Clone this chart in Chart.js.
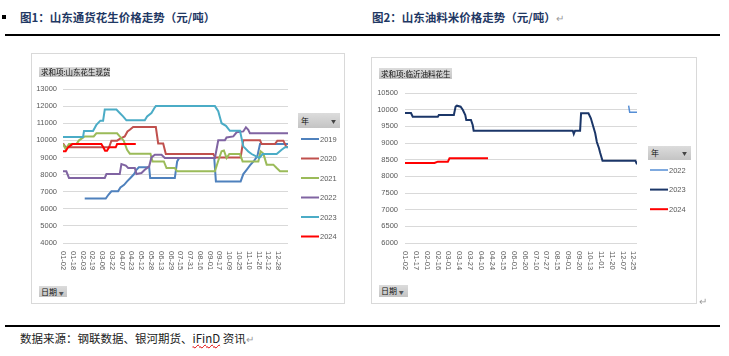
<!DOCTYPE html>
<html><head><meta charset="utf-8">
<script src="https://cdn.jsdelivr.net/npm/chart.js@4.4.1/dist/chart.umd.min.js"></script>
<style>
html,body{margin:0;padding:0;background:#fff;}
body{width:729px;height:356px;position:relative;overflow:hidden;font-family:"Noto Sans CJK SC","Noto Sans",sans-serif;}
.abs{position:absolute;}
.title{font-weight:bold;font-size:11.5px;color:#1F3864;white-space:nowrap;line-height:16px;}
.rule{background:#000;height:1.5px;left:5px;width:715px;}
.box{border:1px solid #D9D9D9;box-sizing:border-box;}
.btn{background:linear-gradient(#dcdcdc,#c4c4c4);font-size:7.5px;color:#111;line-height:10px;white-space:nowrap;padding-left:2px;box-sizing:border-box;}
.ret{color:#9a9a9a;font-weight:normal;font-size:10px;}
canvas{position:absolute;}
</style></head>
<body>
<div class="abs" style="left:2px;top:15px;width:4px;height:4px;background:#000"></div>
<div class="abs title" style="left:20px;top:9px">图1：山东通货花生价格走势（元/吨）</div>
<div class="abs title" style="left:372px;top:9px">图2：山东油料米价格走势（元/吨）<span class="ret">↵</span></div>
<div class="abs rule" style="top:34px"></div>

<div class="abs box" style="left:31px;top:53px;width:314px;height:251px"></div>
<div class="abs box" style="left:371px;top:57px;width:326px;height:247px"></div>
<canvas id="c1" width="314" height="251" style="left:31px;top:53px"></canvas>
<canvas id="c2" width="326" height="247" style="left:371px;top:57px"></canvas>

<div class="abs btn" style="left:39px;top:67px;width:71px;height:10px">求和项:山东花生现货</div>
<div class="abs btn" style="left:39px;top:286px;width:28px;height:11px;line-height:11px;font-size:8px">日期 <span style="font-size:5px;color:#555">▼</span></div>
<div class="abs btn" style="left:298px;top:113px;width:42px;height:15px;line-height:15px;font-size:8px;padding-left:3px">年<span style="position:absolute;right:4px;font-size:5px;color:#444">▼</span></div>

<div class="abs btn" style="left:379px;top:68px;width:73px;height:11px;line-height:11px">求和项:临沂油料花生</div>
<div class="abs btn" style="left:379px;top:285px;width:29px;height:12px;line-height:12px;font-size:8px">日期 <span style="font-size:5px;color:#555">▼</span></div>
<div class="abs btn" style="left:648px;top:146px;width:43px;height:14px;line-height:14px;font-size:8px;padding-left:3px">年<span style="position:absolute;right:4px;font-size:5px;color:#444">▼</span></div>
<div class="abs ret" style="left:699px;top:293px">↵</div>

<div class="abs rule" style="top:325px"></div>
<div class="abs" style="left:20px;top:330px;font-size:11.5px;color:#222;white-space:nowrap;line-height:16px">数据来源：钢联数据、银河期货、<span style="text-decoration:underline wavy #e00000;text-decoration-thickness:1px">iFinD</span> 资讯<span class="ret">↵</span></div>

<script>
// ---------- Chart 1: 山东通货花生 ----------
const TICKS_1 = ['01-02','01-18','02-03','02-19','03-06','03-22','04-07','04-23','05-12','05-28','06-13','06-29','07-15','07-31','08-16','09-01','09-17','10-09','10-25','11-10','11-26','12-12','12-28'];
const YEARS_1 = ['2019','2020','2021','2022','2023','2024'];
// [position in tick units (date index), price]
const P1_2019 = [[2.22,6600],[4.37,6600],[4.64,6820],[4.95,7020],[5.63,7020],[5.87,7250],[6.25,7400],[6.55,7600],[6.89,7800],[7.27,8030],[7.51,8280],[7.75,8420],[8.81,8420],[8.91,7800],[11.43,7800],[11.67,8770],[11.88,8970],[15.46,8970],[15.63,7600],[18.16,7600],[18.43,8030],[18.77,8280],[19.11,8540],[19.52,8800],[19.86,9060],[20.14,9780],[23,9780]];
const P1_2020 = [[0,9820],[0.27,9590],[4.71,9590],[4.95,9980],[5.53,9980],[5.8,10080],[6.31,10230],[6.59,10520],[6.83,10620],[7.17,10780],[9.49,10780],[9.73,9820],[10.24,9820],[10.51,9200],[15.36,9200],[15.56,9000],[18.16,9000],[18.43,10000],[20.14,10000],[20.31,9780],[21.67,9780],[21.91,9980],[22.53,9980],[22.8,9650],[23,9590]];
const P1_2021 = [[0,9780],[0.27,9490],[0.61,9780],[1.37,9780],[1.64,10000],[2.22,10230],[3.14,10230],[3.41,10410],[5.53,10410],[5.8,10230],[6.21,9980],[6.55,9450],[6.83,9220],[8.94,9220],[9.15,8770],[10.31,8770],[10.58,8380],[11.43,8380],[11.67,8190],[15.53,8190],[15.87,8810],[16.21,9360],[16.45,9410],[16.72,8970],[17,9200],[18.09,9200],[18.36,8770],[19.97,8770],[20.2,9360],[20.48,9220],[20.82,8580],[21.5,8580],[21.84,8380],[22.18,8190],[23,8190]];
const P1_2022 = [[0,8190],[0.34,8190],[0.61,7800],[4.27,7800],[4.44,8030],[5.8,8030],[5.97,8610],[6.42,8520],[6.66,8380],[7.34,8380],[7.51,8030],[8.02,8090],[8.36,8280],[8.81,8480],[9.04,9000],[9.39,9160],[10.07,9160],[10.41,8970],[15.53,8970],[15.87,10000],[16.55,10000],[16.72,10170],[17.41,10230],[17.75,10470],[18.43,10520],[18.7,10760],[18.94,10620],[19.11,10410],[23,10410]];
const P1_2023 = [[0,10200],[2.05,10200],[2.15,10550],[3.07,10550],[3.41,10900],[3.82,11150],[4.1,11150],[4.27,11800],[5.46,11800],[5.8,11600],[6.14,11400],[6.48,11170],[8.36,11170],[8.6,11400],[9.04,11600],[9.39,11930],[9.49,12000],[15.53,12000],[15.87,11700],[16.21,11000],[16.66,10850],[17.06,10560],[18.09,10560],[18.43,9650],[18.94,9350],[19.28,9200],[20.07,8970],[20.41,9200],[21.84,9200],[22.35,9450],[22.7,9600],[23,9600]];
const P1_2024 = [[0,9360],[0.27,9360],[0.51,9590],[0.96,9780],[3.92,9780],[4.16,9550],[4.3,9390],[4.5,9390],[4.71,9590],[5.39,9590],[5.53,9780],[7.44,9780]];
const COLORS_1 = ['#4F81BD','#C0504D','#9BBB59','#8064A2','#4BACC6','#FF0000'];

// ---------- Chart 2: 临沂油料花生 ----------
const TICKS_2 = ['01-02','01-17','02-01','02-16','03-01','03-14','03-27','04-10','04-24','05-15','06-01','06-20','07-10','07-27','08-15','09-01','09-20','10-13','11-01','11-20','12-07','12-25'];
const YEARS_2 = ['2022','2023','2024'];
const P2_2022 = [[20.55,10120],[20.65,9920],[21.32,9920]];
const P2_2023 = [[0,9900],[0.55,9900],[0.71,9790],[3.02,9790],[3.11,9840],[4.49,9840],[4.65,10090],[4.77,10120],[5.11,10090],[5.32,9990],[5.54,9840],[5.63,9690],[6.06,9690],[6.22,9540],[6.31,9370],[15.42,9370],[15.51,9270],[15.63,9370],[16.09,9370],[16.18,9890],[16.86,9890],[17.08,9740],[17.26,9540],[17.48,9290],[17.63,9030],[17.82,8850],[17.94,8700],[18.15,8470],[21.17,8470],[21.32,8360]];
const P2_2024 = [[0,8400],[2.71,8400],[3.02,8440],[3.94,8440],[4.09,8540],[7.63,8540]];
const COLORS_2 = ['#558ED5','#1B3668','#FF0000'];

const FONT = {family:'"Liberation Sans", Arial, sans-serif', size:7.5};
const TXT = '#595959';

function toXY(arr){ return arr.map(p => ({x:p[0], y:p[1]})); }

function makeExtras(ticks, cfg){
  return {
    id:'extras',
    afterDraw(chart){
      const ctx = chart.ctx, xs = chart.scales.x, area = chart.chartArea;
      ctx.save();
      ctx.font = FONT.size + 'px ' + FONT.family;
      ctx.fillStyle = TXT;
      ticks.forEach((t,i) => {
        const x = xs.getPixelForValue(i);
        ctx.save();
        ctx.translate(x, area.bottom + cfg.gap);
        ctx.rotate(Math.PI/2);
        ctx.textAlign = 'left'; ctx.textBaseline = 'middle';
        ctx.fillText(t, 0, 0);
        ctx.restore();
      });
      chart.data.datasets.forEach((ds,i) => {
        const y = cfg.legY + i*cfg.legStep;
        ctx.strokeStyle = ds.borderColor; ctx.lineWidth = ds.borderWidth;
        ctx.beginPath(); ctx.moveTo(cfg.legX, y); ctx.lineTo(cfg.legX + 18, y); ctx.stroke();
        ctx.textAlign = 'left'; ctx.textBaseline = 'middle';
        ctx.fillText(ds.label, cfg.legX + 19, y + 0.5);
      });
      ctx.restore();
    }
  };
}

function makeChart(id, ticks, years, series, colors, widths, yCfg, lay){
  const datasets = years.map((yr,i) => ({
    label: yr, data: toXY(series[i]), borderColor: colors[i], backgroundColor: colors[i],
    borderWidth: widths[i], pointRadius: 0, tension: 0, fill: false, order: years.length - i
  }));
  return new Chart(document.getElementById(id), {
    type: 'line',
    data: { datasets },
    options: {
      responsive: false, animation: false, events: [],
      layout: { padding: { top: lay.top, right: lay.right, left: 0, bottom: 0 } },
      plugins: { legend: { display: false }, tooltip: { enabled: false } },
      scales: {
        x: {
          type: 'linear', min: 0, max: lay.xmax,
          afterBuildTicks: s => { s.ticks = ticks.map((_,i) => ({value:i})); },
          afterFit: s => { s.height = lay.xh; },
          ticks: { display: false }, grid: { display: false }, border: { display: false }
        },
        y: {
          min: yCfg.min, max: yCfg.max,
          afterFit: s => { s.width = lay.yw; },
          ticks: { stepSize: yCfg.step, font: FONT, color: TXT, padding: lay.ypad, callback: v => String(v) },
          grid: { color: '#D9D9D9', lineWidth: 1, drawTicks: false },
          border: { display: false }
        }
      }
    },
    plugins: [makeExtras(ticks, lay)]
  });
}

makeChart('c1', TICKS_1, YEARS_1, [P1_2019,P1_2020,P1_2021,P1_2022,P1_2023,P1_2024], COLORS_1,
  [2,2,2,2,2,2], {min:4000, max:13000, step:1000},
  {top:36, right:57, xh:61, yw:32, ypad:6, xmax:23, gap:8, legX:270, legY:86, legStep:19.5});

makeChart('c2', TICKS_2, YEARS_2, [P2_2022,P2_2023,P2_2024], COLORS_2,
  [1.5,2,2], {min:6000, max:10500, step:500},
  {top:36, right:60, xh:61, yw:34, ypad:7, xmax:21.32, gap:8, legX:279, legY:113, legStep:19.6});
</script>
</body></html>
